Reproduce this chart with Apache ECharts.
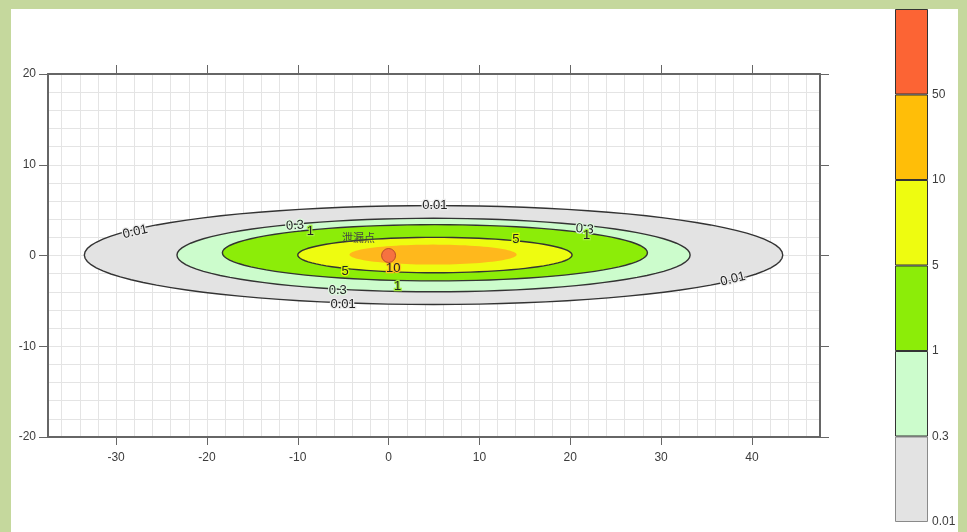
<!DOCTYPE html>
<html>
<head>
<meta charset="utf-8">
<script src="https://cdn.jsdelivr.net/npm/echarts@6/dist/echarts.min.js"></script>
<style>
  html,body{margin:0;padding:0;}
  #wrap{position:relative;width:967px;height:532px;background:#c5d89d;}
  #paper{position:absolute;left:11px;top:9px;width:947px;height:523px;background:#fff;}
  #main{position:absolute;left:0;top:0;width:967px;height:532px;}
</style>
</head>
<body>
<div id="wrap"><div id="paper"></div><div id="main"></div></div>
<script>
// 轴刻度
var xTicks = [-30, -20, -10, 0, 10, 20, 30, 40];
var xGrid = [-36, -34, -32, -30, -28, -26, -24, -22, -20, -18, -16, -14, -12, -10, -8, -6, -4, -2, 0,
  2, 4, 6, 8, 10, 12, 14, 16, 18, 20, 22, 24, 26, 28, 30, 32, 34, 36, 38, 40, 42, 44, 46];
// 色标分级
var levels = ['0.01', '0.3', '1', '5', '10', '50'];
var levelColors = ['#e3e3e3', '#ccfccc', '#8ced08', '#eefc10', '#ffbe08', '#fc6434'];

// 等值线范围：级别、x最小、x最大、y最小、y最大
var contourLevel = ['0.01', '0.3', '1', '5', '10'];
var contourXMin = [-33.5, -23.3, -18.3, -10.0, -4.3];
var contourXMax = [43.4, 33.2, 28.5, 20.2, 14.1];
var contourYMin = [-5.4, -4.0, -2.8, -1.9, -1.0];
var contourYMax = [5.5, 4.1, 3.4, 2.0, 1.2];
var contourFill = ['#e3e3e3', '#ccfccc', '#8ced08', '#eefc10', '#ffb81c'];

// 等值线标注：x, y, 文字, 旋转角
var labelX = [-27.9, 5.1, 37.9, -5.0, -10.3, -8.6, 21.6, 21.8, -5.6, 1.0, 14.0, -4.8, 0.5, -3.3];
var labelY = [2.6, 5.5, -2.6, -5.4, 3.3, 2.6, 2.9, 2.2, -3.9, -3.4, 1.8, -1.8, -1.4, 1.8];
var labelText = ['0.01', '0.01', '0.01', '0.01', '0.3', '1', '0.3', '1', '0.3', '1', '5', '5', '10', '泄漏点'];
var labelRotate = [13, 0, 14, 0, 4, 0, -4, 0, 0, 0, 0, 0, 0, 0];

// 泄漏点
var sourcePoint = [[0, 0]];

var contourData = contourLevel.map(function (l, i) {
  return [contourXMin[i], contourXMax[i], contourYMin[i], contourYMax[i]];
});
var labelData = labelText.map(function (t, i) {
  return [labelX[i], labelY[i], i];
});

var haloColor = {'0.01': '#ececec', '0.3': '#dcf8dc', '1': '#a4ee3c', '5': '#ddf80c', '10': '#ffc020', '泄漏点': null};

function renderContour(params, api) {
  var x0 = api.value(0), x1 = api.value(1), y0 = api.value(2), y1 = api.value(3);
  var cx = (x0 + x1) / 2, cy = (y0 + y1) / 2, a = (x1 - x0) / 2, b = (y1 - y0) / 2;
  var pts = [];
  for (var k = 0; k < 96; k++) {
    var t = k / 96 * Math.PI * 2;
    pts.push(api.coord([cx + a * Math.cos(t), cy + b * Math.sin(t)]));
  }
  var lvl = contourLevel[params.dataIndex];
  return {
    type: 'polygon',
    shape: {points: pts},
    style: {
      fill: contourFill[params.dataIndex],
      stroke: lvl === '10' ? null : '#333',
      lineWidth: 1.4
    }
  };
}

function renderLabel(params, api) {
  var p = api.coord([api.value(0), api.value(1)]);
  var i = api.value(2);
  var txt = labelText[i];
  var halo = haloColor[txt];
  return {
    type: 'text',
    x: p[0], y: p[1],
    rotation: labelRotate[i] * Math.PI / 180,
    style: {
      text: txt,
      fill: txt === '泄漏点' ? '#444' : '#222',
      font: (txt === '泄漏点' ? '11px' : '13px') + ' "Liberation Sans", "Noto Sans CJK SC", sans-serif',
      align: 'center',
      verticalAlign: 'middle',
      stroke: halo,
      lineWidth: halo ? 2.5 : 0
    }
  };
}

var axisGray = '#666';
var labelStyle = {color: '#3c3c3c', fontSize: 12, fontFamily: 'Liberation Sans'};

var myChart = echarts.init(document.getElementById('main'));
var option = {
  backgroundColor: 'transparent',
  animation: false,
  grid: [
    {left: 48, top: 74, width: 772, height: 363},
    {left: 895, top: 9, width: 33, height: 513}
  ],
  xAxis: [
    {
      gridIndex: 0, type: 'value', min: -37.5, max: 47.5, position: 'bottom',
      axisLine: {show: true, onZero: false, lineStyle: {color: axisGray, width: 2}},
      axisTick: {show: true, customValues: xTicks, length: 8, lineStyle: {color: axisGray}},
      axisLabel: Object.assign({customValues: xTicks, margin: 15}, labelStyle),
      splitLine: {show: false}
    },
    {
      gridIndex: 0, type: 'value', min: -37.5, max: 47.5, position: 'top',
      axisLine: {show: true, onZero: false, lineStyle: {color: axisGray, width: 2}},
      axisTick: {show: true, customValues: xTicks, length: 9, lineStyle: {color: axisGray}},
      axisLabel: {show: false},
      splitLine: {show: false}
    },
    {
      gridIndex: 0, type: 'value', min: -37.5, max: 47.5, position: 'bottom',
      axisLine: {show: false, onZero: false},
      axisTick: {show: false, customValues: xGrid},
      axisLabel: {show: false},
      splitLine: {show: true, lineStyle: {color: '#e4e4e4', width: 1}}
    },
    {gridIndex: 1, type: 'category', data: ['c'], show: false}
  ],
  yAxis: [
    {
      gridIndex: 0, type: 'value', min: -20, max: 20, interval: 10, position: 'left',
      axisLine: {show: true, onZero: false, lineStyle: {color: axisGray, width: 2}},
      axisTick: {show: true, length: 9, lineStyle: {color: axisGray}},
      axisLabel: Object.assign({margin: 12}, labelStyle),
      splitLine: {show: false}
    },
    {
      gridIndex: 0, type: 'value', min: -20, max: 20, interval: 10, position: 'right',
      axisLine: {show: true, onZero: false, lineStyle: {color: axisGray, width: 2}},
      axisTick: {show: true, length: 9, lineStyle: {color: axisGray}},
      axisLabel: {show: false},
      splitLine: {show: false}
    },
    {
      gridIndex: 0, type: 'value', min: -20, max: 20, interval: 2, position: 'left',
      axisLine: {show: false, onZero: false},
      axisTick: {show: false},
      axisLabel: {show: false},
      splitLine: {show: true, lineStyle: {color: '#e4e4e4', width: 1}}
    },
    {
      gridIndex: 1, type: 'value', min: 0, max: 6, interval: 1, position: 'right',
      axisLine: {show: false}, axisTick: {show: false}, splitLine: {show: false},
      axisLabel: {
        margin: 4, color: '#3c3c3c', fontSize: 12, fontFamily: 'Liberation Sans',
        formatter: function (v) { return levels[v] || ''; }
      }
    }
  ],
  series: [
    {
      type: 'custom', name: 'contour', xAxisIndex: 0, yAxisIndex: 0,
      data: contourData, renderItem: renderContour, clip: true, silent: true, z: 2,
      encode: {x: [0, 1], y: [2, 3]}
    },
    {
      type: 'custom', name: 'labels', xAxisIndex: 0, yAxisIndex: 0,
      data: labelData, renderItem: renderLabel, silent: true, z: 4,
      encode: {x: 0, y: 1}
    },
    {
      type: 'scatter', name: '泄漏点', xAxisIndex: 0, yAxisIndex: 0,
      data: sourcePoint, symbolSize: 14, z: 5, silent: true,
      itemStyle: {color: '#f4604a', borderColor: '#a83a2a', borderWidth: 1}
    }
  ].concat(levels.map(function (l, i) {
    return {
      type: 'bar', name: l, xAxisIndex: 3, yAxisIndex: 3, stack: 'cb', barWidth: '100%',
      data: [1], silent: true,
      itemStyle: {color: levelColors[i], borderColor: i === 0 ? '#8a8a8a' : '#333', borderWidth: 1}
    };
  }))
};
myChart.setOption(option);
</script>
</body>
</html>
